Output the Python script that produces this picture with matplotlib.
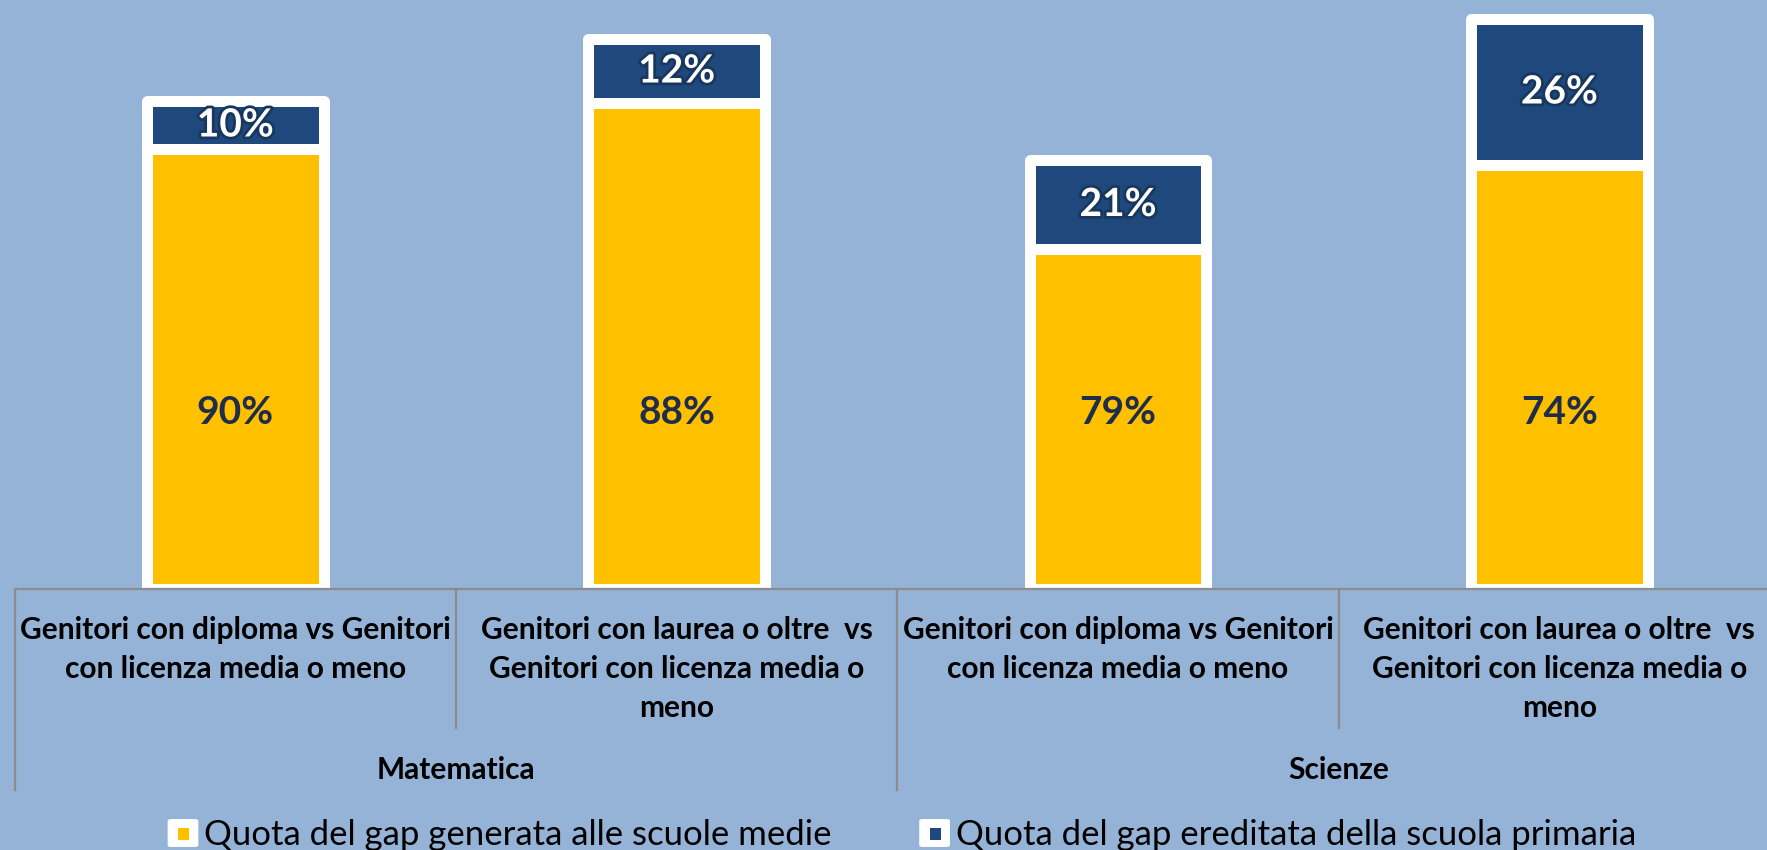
import matplotlib
matplotlib.use("Agg")
import matplotlib.pyplot as plt
from matplotlib.patches import FancyBboxPatch, Rectangle
import matplotlib.patheffects as pe

# ---------------- data ----------------
categories = [
    "Genitori con diploma vs Genitori\ncon licenza media o meno",
    "Genitori con laurea o oltre  vs\nGenitori con licenza media o\nmeno",
    "Genitori con diploma vs Genitori\ncon licenza media o meno",
    "Genitori con laurea o oltre  vs\nGenitori con licenza media o\nmeno",
]
groups = ["Matematica", "Scienze"]
gap_medie = [44.0, 48.6, 34.0, 42.4]      # yellow segment (gap generated in middle school)
gap_primaria = [4.8, 6.4, 8.9, 14.6]      # dark segment (gap inherited from primary)
labels_medie = ["90%", "88%", "79%", "74%"]
labels_primaria = ["10%", "12%", "21%", "26%"]
legend_labels = ["Quota del gap generata alle scuole medie",
                 "Quota del gap ereditata della scuola primaria"]

# ---------------- style ----------------
W, H = 1767, 850
BG = "#95B3D7"
YEL = "#FFC000"
NAVY = "#1F497D"
GRID = "#8C8C8C"
FONT = "Lato"

fig = plt.figure(figsize=(W / 100, H / 100), dpi=100, facecolor=BG)

base_px = 589.0
left_px, right_px = 14.6, 1780.0
ax = fig.add_axes([left_px / W, 1 - base_px / H, (right_px - left_px) / W, base_px / H])
ax.set_facecolor(BG)
ax.set_xlim(-0.5, 3.5)
ax.set_ylim(0, base_px / 10.0)
for s in ["top", "left", "right"]:
    ax.spines[s].set_visible(False)
ax.spines["bottom"].set_color(GRID)
ax.spines["bottom"].set_linewidth(1.6)
ax.spines["bottom"].set_zorder(5)
ax.set_xticks([])
ax.set_yticks([])

x = list(range(len(categories)))
lw_pt = 11 * 72 / 100
b1 = ax.bar(x, gap_medie, width=0.40, color=YEL, edgecolor="white", linewidth=lw_pt,
            joinstyle="round", zorder=2)
b2 = ax.bar(x, gap_primaria, bottom=gap_medie, width=0.40, color=NAVY, edgecolor="white",
            linewidth=lw_pt, joinstyle="round", zorder=2)


def ay(ypx):
    return (base_px - ypx) / base_px


xt = ax.get_xaxis_transform()

# value labels
for i in x:
    ax.text(i, ay(412.5), labels_medie[i], transform=xt, ha="center", va="center",
            fontsize=28, fontweight="bold", color="#1F2D4D", family=FONT, zorder=6)
    yc = gap_medie[i] + gap_primaria[i] / 2
    ax.text(i, yc, labels_primaria[i], ha="center", va="center",
            fontsize=28, fontweight="bold", color="white", family=FONT, zorder=6,
            path_effects=[pe.withStroke(linewidth=4, foreground="#17375E")])

# category labels
for i, lab in enumerate(categories):
    for j, line in enumerate(lab.split("\n")):
        ax.text(i, ay(630 + 39 * j), line, transform=xt, ha="center", va="center",
                fontsize=21.5, fontweight="bold", color="black", family=FONT)

# group labels
for g, name in enumerate(groups):
    ax.text(2 * g + 0.5, ay(770), name, transform=xt, ha="center", va="center",
            fontsize=21.5, fontweight="bold", color="black", family=FONT)

# divider lines
for xv, yend in [(-0.5, 790), (0.5, 728), (1.5, 790), (2.5, 728), (3.5, 790)]:
    ax.plot([xv, xv], [0, ay(yend)], transform=xt, color=GRID, lw=1.6, clip_on=False, zorder=5)


# legend (figure pixel coordinates)
def fx(px):
    return px / W


def fy(py):
    return 1 - py / H


for (mx, tx), col, lab in zip([(168, 204), (919.6, 956)], [YEL, NAVY], legend_labels):
    box = FancyBboxPatch((fx(mx + 3), fy(848 - 3)), fx(24), 24 / H,
                         boxstyle="round,pad=0.0015", transform=fig.transFigure,
                         facecolor="white", edgecolor="white", figure=fig)
    fig.patches.append(box)
    inner = Rectangle((fx(mx + 10), fy(840)), fx(11), 12 / H, transform=fig.transFigure,
                      facecolor=col, edgecolor="none", figure=fig)
    fig.patches.append(inner)
    fig.text(fx(tx), fy(845), lab, ha="left", va="baseline", fontsize=25,
             color="black", family=FONT)

fig.savefig("out.png", dpi=100, facecolor=BG)
